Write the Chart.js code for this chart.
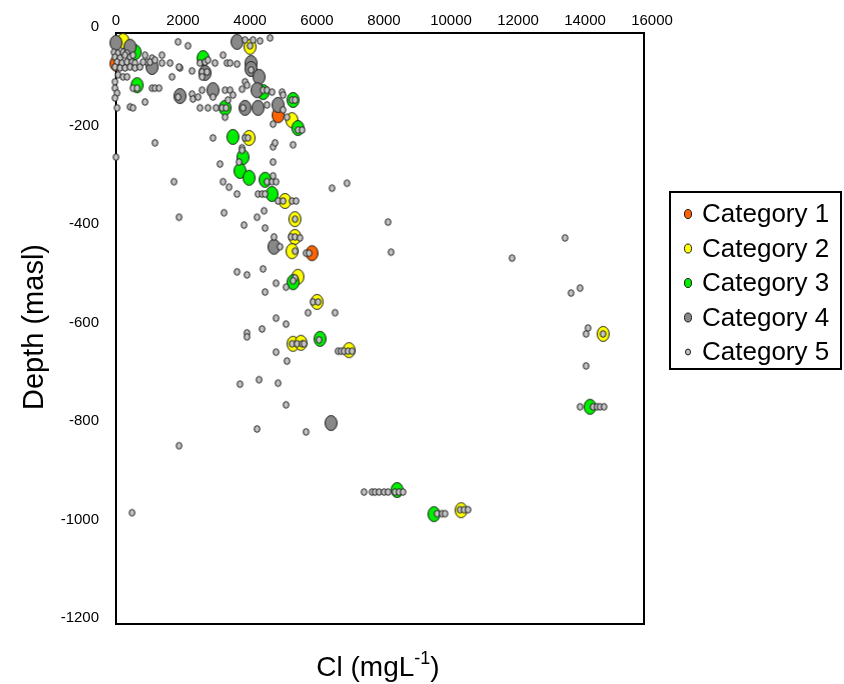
<!DOCTYPE html>
<html>
<head>
<meta charset="utf-8">
<script src="https://cdn.jsdelivr.net/npm/chart.js@4"></script>
<style>
  html, body { margin: 0; padding: 0; background: #fff; }
  canvas { display: block; }
</style>
</head>
<body>
<canvas id="chart" width="844" height="684"></canvas>
<script>
// Cl (mg/L) vs depth (masl)
const categoryNames = ['Category 1', 'Category 2', 'Category 3', 'Category 4', 'Category 5'];
const categoryColors = ['#ff6200', '#ffff00', '#00ee00', '#888888', '#c4c4c4'];

const cat1Points = [[0, -62], [4840, -167], [5850, -447]];

const cat2Points = [
  [210, -16], [4000, -28], [5250, -177], [3970, -213], [5045, -341], [5340, -378],
  [5340, -414], [5255, -443], [5430, -495], [6000, -546], [5285, -631], [5520, -629],
  [6955, -644], [14540, -611], [10300, -969]
];

const cat3Points = [
  [570, -39], [630, -106], [2600, -51], [3255, -152], [4390, -120], [5285, -136],
  [5430, -193], [3490, -211], [3790, -252], [3700, -280], [3970, -294], [4450, -298],
  [4655, -327], [5285, -506], [6090, -621], [14150, -759], [8390, -928], [9490, -977]
];

const cat4Points = [
  [0, -20], [418, -28], [1075, -69], [1910, -128], [2657, -81], [2895, -116],
  [3851, -152], [3612, -18], [4030, -61], [4030, -73], [4269, -89], [4209, -116],
  [4239, -152], [4836, -146], [4716, -434], [6418, -792]
];

const cat5Points = [
  [-60, -39], [60, -41], [209, -39], [328, -41], [-30, -49], [119, -51], [269, -45], [418, -49],
  [507, -45], [30, -59], [179, -61], [328, -59], [478, -59], [567, -61], [-30, -69], [119, -71],
  [269, -71], [418, -69], [567, -71], [716, -69], [866, -45], [925, -59], [806, -59], [1075, -51],
  [1015, -59], [1164, -55], [1373, -45], [1373, -61], [1612, -61], [1910, -71], [60, -85], [-30, -99],
  [209, -89], [328, -89], [507, -112], [627, -112], [-30, -112], [30, -122], [-30, -132], [30, -152],
  [866, -140], [418, -150], [507, -152], [1075, -112], [1164, -112], [1284, -112], [1164, -223], [0, -252],
  [1731, -302], [1851, -18], [2149, -26], [1672, -89], [1881, -69], [2269, -77], [1851, -130], [2269, -124],
  [2298, -134], [2448, -130], [2567, -116], [2507, -152], [2746, -152], [2985, -152], [2507, -61], [2657, -59],
  [2746, -55], [2567, -79], [2716, -79], [2567, -89], [2955, -61], [3194, -45], [3313, -61], [3403, -61],
  [3612, -63], [2895, -130], [3254, -116], [3403, -116], [3492, -126], [3343, -136], [3164, -152], [3284, -152],
  [3254, -171], [3791, -152], [3851, -14], [4090, -14], [4298, -16], [4597, -10], [4000, -26], [4030, -75],
  [3851, -99], [3910, -106], [3761, -114], [4388, -116], [4507, -116], [4657, -120], [4955, -120], [4985, -126],
  [4507, -146], [4985, -156], [5254, -136], [5343, -136], [5104, -171], [5433, -197], [5552, -197], [2895, -213],
  [3851, -213], [3940, -213], [3761, -233], [4687, -185], [5284, -227], [4687, -231], [4746, -223], [6448, -315],
  [6895, -305], [4687, -262], [3104, -266], [3761, -238], [3672, -262], [4507, -302], [4657, -302], [4776, -302],
  [4687, -290], [3194, -302], [3373, -313], [3612, -327], [4239, -327], [4358, -327], [4448, -327], [4836, -341],
  [4985, -341], [5254, -341], [5373, -341], [1881, -374], [3224, -365], [4418, -361], [4209, -374], [3821, -390],
  [4448, -396], [5343, -378], [4716, -414], [5224, -414], [5343, -414], [5492, -416], [4895, -434], [5343, -443],
  [5672, -447], [5761, -447], [8119, -384], [8209, -445], [3612, -485], [3910, -491], [4388, -479], [5343, -497],
  [5284, -503], [4776, -508], [5075, -516], [4448, -526], [5880, -546], [6030, -546], [5731, -568], [6537, -568],
  [4776, -579], [5075, -591], [3910, -609], [3910, -617], [4358, -601], [5254, -631], [5403, -631], [5552, -631],
  [5612, -631], [6060, -623], [6627, -646], [6716, -646], [6806, -646], [6925, -646], [7045, -646], [4776, -648],
  [5104, -666], [3701, -713], [4269, -704], [4836, -711], [5075, -755], [4209, -804], [5672, -810], [1881, -838],
  [7403, -932], [7642, -932], [7731, -932], [7851, -932], [8000, -932], [8119, -932], [8328, -932], [8448, -932],
  [8567, -932], [9582, -976], [9731, -976], [9821, -976], [10268, -968], [10388, -968], [10507, -968], [13850, -759],
  [14239, -759], [14358, -759], [14448, -759], [14567, -759], [13403, -416], [11821, -457], [13582, -528], [13850, -518],
  [14089, -599], [14030, -611], [14537, -611], [14030, -676], [478, -974]
];

const xTicks = [0, 2000, 4000, 6000, 8000, 10000, 12000, 14000, 16000];
const yTicks = [0, -200, -400, -600, -800, -1000, -1200];

const allPoints = [cat1Points, cat2Points, cat3Points, cat4Points, cat5Points];

// ellipse marker drawn into a small canvas, used as pointStyle
function ellipseMarker(color, rx, ry) {
  const c = document.createElement('canvas');
  c.width = Math.ceil(rx * 2 + 3);
  c.height = Math.ceil(ry * 2 + 3);
  const g = c.getContext('2d');
  g.beginPath();
  g.ellipse(c.width / 2, c.height / 2, rx, ry, 0, 0, Math.PI * 2);
  g.fillStyle = color;
  g.fill();
  g.lineWidth = 1;
  g.strokeStyle = '#1a1a1a';
  g.stroke();
  return c;
}

const markers = categoryColors.map((col, i) => i < 4 ? ellipseMarker(col, 6, 7.5) : ellipseMarker(col, 2.8, 3.3));

const datasets = allPoints.map((pts, i) => ({
  label: categoryNames[i],
  data: pts.map(p => ({ x: p[0], y: p[1] })),
  pointStyle: markers[i],
  backgroundColor: categoryColors[i],
  order: 5 - i,   // later categories drawn on top
  clip: false
}));

const FONT = 'Arial, "Liberation Sans", sans-serif';

const framePlugin = {
  id: 'frame',
  beforeDatasetsDraw(chart) {
    const { ctx, chartArea: a } = chart;
    ctx.save();
    ctx.strokeStyle = '#000';
    ctx.lineWidth = 2;
    ctx.strokeRect(a.left, a.top, a.right - a.left, a.bottom - a.top);
    ctx.restore();
  },
  afterDraw(chart) {
    const ctx = chart.ctx;
    ctx.save();
    ctx.fillStyle = '#000';

    // y title
    ctx.translate(35, 327);
    ctx.rotate(-Math.PI / 2);
    ctx.font = '29px ' + FONT;
    ctx.textAlign = 'center';
    ctx.textBaseline = 'middle';
    ctx.fillText('Depth (masl)', 0, 0);
    ctx.setTransform(1, 0, 0, 1, 0, 0);

    // x title with superscript
    const big = '28px ' + FONT, small = '18px ' + FONT;
    ctx.font = big;
    const w1 = ctx.measureText('Cl (mgL').width;
    const w3 = ctx.measureText(')').width;
    ctx.font = small;
    const w2 = ctx.measureText('-1').width;
    let x = 378 - (w1 + w2 + w3) / 2;
    const base = 676;
    ctx.textAlign = 'left';
    ctx.textBaseline = 'alphabetic';
    ctx.font = big;
    ctx.fillText('Cl (mgL', x, base);
    x += w1;
    ctx.font = small;
    ctx.fillText('-1', x, base - 12);
    x += w2;
    ctx.font = big;
    ctx.fillText(')', x, base);

    // legend box
    ctx.lineWidth = 2;
    ctx.strokeStyle = '#000';
    ctx.strokeRect(670, 192, 171, 177);
    ctx.font = '26px ' + FONT;
    ctx.textBaseline = 'middle';
    categoryNames.forEach((name, i) => {
      const cy = 214 + i * 34.5;
      const rx = i < 4 ? 3.5 : 2.5, ry = i < 4 ? 4.5 : 3;
      ctx.beginPath();
      ctx.ellipse(688, cy, rx, ry, 0, 0, Math.PI * 2);
      ctx.fillStyle = categoryColors[i];
      ctx.fill();
      ctx.lineWidth = 1;
      ctx.strokeStyle = '#1a1a1a';
      ctx.stroke();
      ctx.fillStyle = '#000';
      ctx.fillText(name, 702, cy + 1);
    });
    ctx.restore();
  }
};

new Chart(document.getElementById('chart').getContext('2d'), {
  type: 'scatter',
  data: { datasets },
  options: {
    responsive: false,
    animation: false,
    events: [],
    layout: { padding: { left: 0, top: 0, right: 200, bottom: 60 } },
    plugins: { legend: { display: false }, tooltip: { enabled: false } },
    scales: {
      x: {
        type: 'linear',
        position: 'top',
        min: 0,
        max: 15760,
        afterBuildTicks: s => { s.ticks = xTicks.map(v => ({ value: v })); },
        afterFit: s => { s.height = 33; },
        grid: { display: false, drawTicks: false },
        border: { display: false },
        ticks: {
          autoSkip: false,
          maxRotation: 0,
          padding: 3,
          color: '#000',
          font: { family: FONT, size: 15 },
          callback: v => String(v)
        }
      },
      y: {
        type: 'linear',
        min: -1200,
        max: 0,
        afterBuildTicks: s => { s.ticks = yTicks.map(v => ({ value: v })); },
        afterFit: s => { s.width = 116; },
        grid: { display: false, drawTicks: false },
        border: { display: false },
        ticks: {
          autoSkip: false,
          padding: 17,
          labelOffset: -6,
          color: '#000',
          font: { family: FONT, size: 15 },
          callback: v => String(v)
        }
      }
    }
  },
  plugins: [framePlugin]
});
</script>
</body>
</html>
